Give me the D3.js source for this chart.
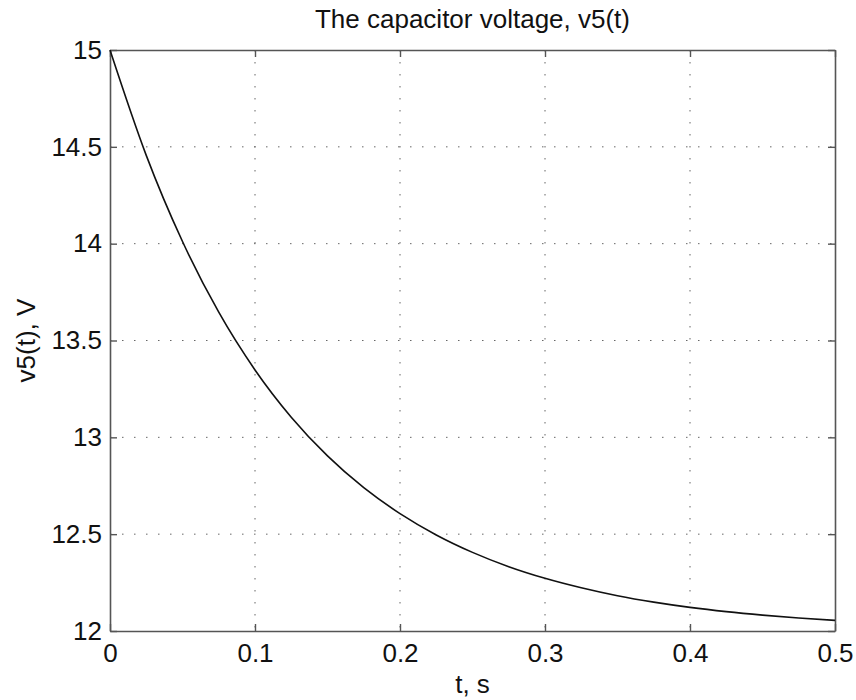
<!DOCTYPE html>
<html>
<head>
<meta charset="utf-8">
<script src="https://cdn.jsdelivr.net/npm/d3@7"></script>
<style>
body { margin: 0; background: #fff; }
text { font-family: "Liberation Sans", Arial, Helvetica, sans-serif; fill: #111; }
</style>
</head>
<body>
<div id="chart"></div>
<script>
// time samples (s) and capacitor voltage (V)
var t_vals = [0, 0.025, 0.05, 0.075, 0.1, 0.125, 0.15, 0.175, 0.2, 0.225, 0.25,
              0.275, 0.3, 0.325, 0.35, 0.375, 0.4, 0.425, 0.45, 0.475, 0.5];
var v_vals = [15, 14.456, 14.011, 13.646, 13.348, 13.104, 12.904, 12.740, 12.606, 12.496, 12.406,
              12.332, 12.272, 12.223, 12.182, 12.149, 12.122, 12.100, 12.082, 12.067, 12.055];

var x_ticks = [0, 0.1, 0.2, 0.3, 0.4, 0.5];
var y_ticks = [12, 12.5, 13, 13.5, 14, 14.5, 15];
var x_tick_labels = ["0", "0.1", "0.2", "0.3", "0.4", "0.5"];
var y_tick_labels = ["12", "12.5", "13", "13.5", "14", "14.5", "15"];

var chart_title = "The capacitor voltage, v5(t)";
var x_title = "t, s";
var y_title = "v5(t), V";

var width = 856, height = 700;
var margin = {top: 50, right: 21, bottom: 69, left: 110};
var plot_w = width - margin.left - margin.right;
var plot_h = height - margin.top - margin.bottom;
var font_px = "26px";

var svg = d3.select("#chart").append("svg")
            .attr("width", width)
            .attr("height", height);

var g = svg.append("g")
           .attr("transform", "translate(" + margin.left + "," + margin.top + ")");

var x = d3.scaleLinear().domain([0, 0.5]).range([0, plot_w]);
var y = d3.scaleLinear().domain([12, 15]).range([plot_h, 0]);

// dotted grid
g.selectAll(".vgrid")
 .data(x_ticks.slice(1, -1))
 .enter()
 .append("line")
 .attr("class", "vgrid")
 .attr("x1", function(d){ return x(d); })
 .attr("x2", function(d){ return x(d); })
 .attr("y1", 0)
 .attr("y2", plot_h)
 .attr("stroke", "#666")
 .attr("stroke-width", 1)
 .attr("stroke-dasharray", "1.5,10.5");

g.selectAll(".hgrid")
 .data(y_ticks.slice(1, -1))
 .enter()
 .append("line")
 .attr("class", "hgrid")
 .attr("x1", 0)
 .attr("x2", plot_w)
 .attr("y1", function(d){ return y(d); })
 .attr("y2", function(d){ return y(d); })
 .attr("stroke", "#666")
 .attr("stroke-width", 1)
 .attr("stroke-dasharray", "1.5,10.5");

// axes with inward ticks on all four sides
var tick_len = 7;
var fmt_x = function(d, i){ return x_tick_labels[i]; };
var fmt_y = function(d, i){ return y_tick_labels[i]; };

var ax_bottom = g.append("g")
                 .attr("transform", "translate(0," + plot_h + ")")
                 .call(d3.axisBottom(x).tickValues(x_ticks).tickFormat(fmt_x)
                         .tickSizeInner(-tick_len).tickSizeOuter(0).tickPadding(16));
var ax_left = g.append("g")
               .call(d3.axisLeft(y).tickValues(y_ticks).tickFormat(fmt_y)
                       .tickSizeInner(-tick_len).tickSizeOuter(0).tickPadding(16));
var ax_top = g.append("g")
              .call(d3.axisTop(x).tickValues(x_ticks).tickFormat("")
                      .tickSizeInner(-tick_len).tickSizeOuter(0));
var ax_right = g.append("g")
                .attr("transform", "translate(" + plot_w + ",0)")
                .call(d3.axisRight(y).tickValues(y_ticks).tickFormat("")
                        .tickSizeInner(-tick_len).tickSizeOuter(0));

[ax_bottom, ax_left, ax_top, ax_right].forEach(function(a){
  a.select(".domain").attr("stroke", "#555").attr("stroke-width", 1.6);
  a.selectAll(".tick line").attr("stroke", "#555").attr("stroke-width", 1.4);
  a.selectAll(".tick text")
   .style("font-family", "'Liberation Sans', Arial, sans-serif")
   .style("font-size", font_px)
   .attr("fill", "#111");
});
ax_bottom.selectAll(".tick text").attr("dy", "0.58em");
ax_left.selectAll(".tick text").attr("x", -8);

// voltage curve
var pts = t_vals.map(function(d, i){ return {t: d, v: v_vals[i]}; });
var line = d3.line()
             .x(function(d){ return x(d.t); })
             .y(function(d){ return y(d.v); })
             .curve(d3.curveMonotoneX);

g.append("path")
 .datum(pts)
 .attr("d", line)
 .attr("fill", "none")
 .attr("stroke", "#111")
 .attr("stroke-width", 1.6);

// titles
svg.append("text")
   .attr("x", margin.left + plot_w / 2)
   .attr("y", 28)
   .attr("text-anchor", "middle")
   .style("font-size", font_px)
   .text(chart_title);

svg.append("text")
   .attr("x", margin.left + plot_w / 2)
   .attr("y", 693)
   .attr("text-anchor", "middle")
   .style("font-size", font_px)
   .text(x_title);

svg.append("text")
   .attr("transform", "translate(35," + (margin.top + plot_h / 2) + ") rotate(-90)")
   .attr("text-anchor", "middle")
   .style("font-size", font_px)
   .text(y_title);
</script>
</body>
</html>
